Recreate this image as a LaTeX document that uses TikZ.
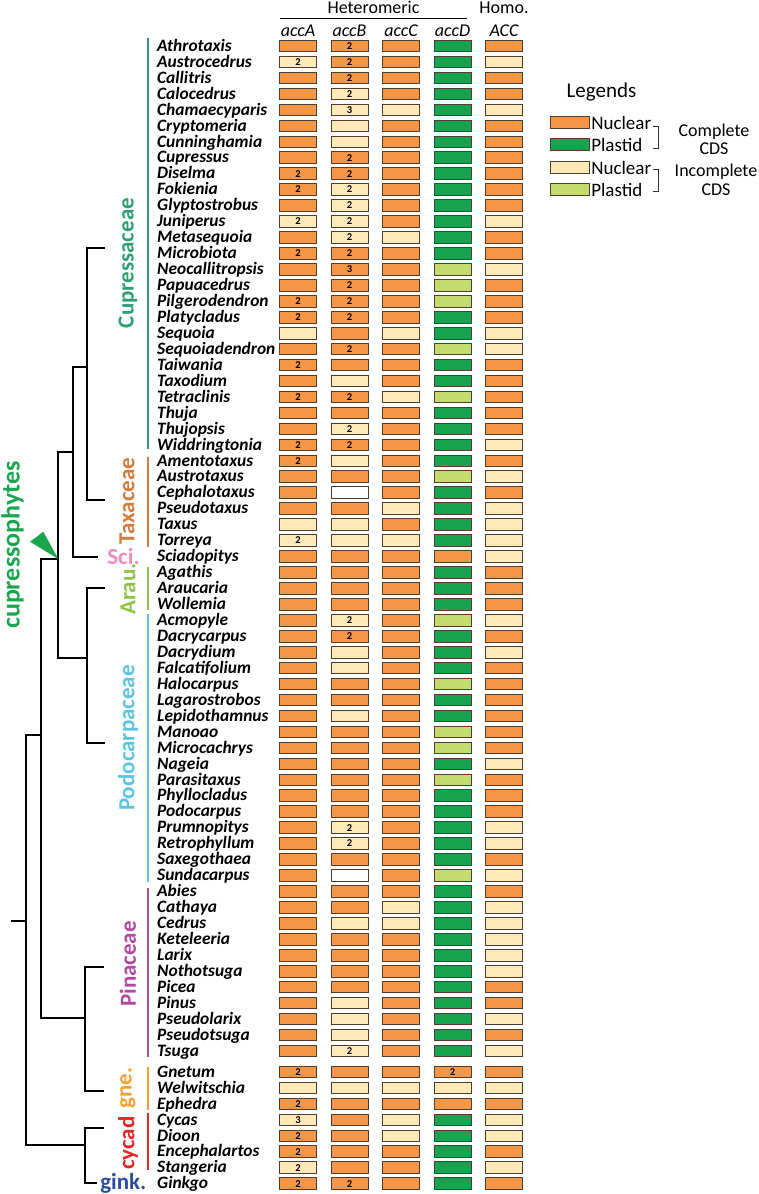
\documentclass[tikz,border=0pt]{standalone}
\usepackage{fontspec}
\setmainfont{Carlito}
\usetikzlibrary{positioning}

\definecolor{colO}{RGB}{247,150,70}
\definecolor{colG}{RGB}{22,163,80}
\definecolor{colY}{RGB}{254,233,183}
\definecolor{colL}{RGB}{196,220,110}
\definecolor{colW}{RGB}{255,255,255}
\definecolor{boxline}{RGB}{80,62,48}
\definecolor{cuprc}{RGB}{46,160,112}
\definecolor{taxac}{RGB}{212,124,62}
\definecolor{scic}{RGB}{238,140,190}
\definecolor{arauc}{RGB}{140,196,74}
\definecolor{podoc}{RGB}{92,196,222}
\definecolor{pinac}{RGB}{180,72,160}
\definecolor{gnec}{RGB}{246,160,50}
\definecolor{cycc}{RGB}{226,38,38}
\definecolor{ginkc}{RGB}{44,76,160}
\definecolor{cphyc}{RGB}{26,166,76}

\newcommand{\setfs}[1]{\fontsize{#1}{#1}\selectfont}
\def\splitcode#1#2\relax{\def\cellcol{#1}\def\cellnum{#2}}
\newcommand{\acccell}[3]{\expandafter\splitcode#3\relax
  \node[accbox, fill=col\cellcol] (#1) at #2 {\cellnum};}

\begin{document}
\begin{tikzpicture}[
  x=1pt, y=-1pt,
  taxon/.style={anchor=base west, inner sep=0pt, font=\setfs{17.4}\bfseries\itshape},
  accbox/.style={draw=boxline, line width=0.8pt, minimum width=37pt, minimum height=11.6pt, inner sep=0pt, font=\setfs{10.5}\bfseries},
  colhead/.style={anchor=base, inner sep=0pt, font=\setfs{18}\itshape},
  branch/.style={line width=1.8pt, black},
  cladebar/.style={line width=1.6pt},
  clade/.style={rotate=90, inner sep=0pt, font=\setfs{23}\bfseries},
  legbox/.style={accbox, minimum width=39pt, minimum height=12pt},
  legtext/.style={inner sep=0pt, anchor=west, font=\setfs{19}},
  brk/.style={line width=0.9pt, black!80}
]
  \useasboundingbox (0,0) rectangle (759,1194);

  % header
  \node[anchor=base, inner sep=0pt, font=\setfs{18}] (hHet) at (373.5,13.5) {Heteromeric};
  \node[anchor=base, inner sep=0pt, font=\setfs{18}] (hHom) at (504,13.5) {Homo.};
  \draw[line width=1.2pt] (280,18.3) -- (466.7,18.3);
  \foreach \h [count=\k] in {accA,accB,accC,accD,ACC}
    \node[colhead] (h\k) at ({298+51.5*(\k-1)},36.7) {\h};

  % table rows
  \foreach \nm/\ca/\cb/\cc/\cd/\ce [count=\i] in {
    Athrotaxis/O/O2/O/G/O, Austrocedrus/Y2/O2/O/G/Y, Callitris/O/O2/O/G/O,
    Calocedrus/O/Y2/O/G/O, Chamaecyparis/O/Y3/Y/G/Y, Cryptomeria/O/Y/O/G/O,
    Cunninghamia/O/Y/O/G/O, Cupressus/O/O2/O/G/O, Diselma/O2/O2/O/G/O,
    Fokienia/O2/Y2/O/G/O, Glyptostrobus/O/Y2/O/G/O, Juniperus/Y2/Y2/O/G/Y,
    Metasequoia/O/Y2/Y/G/O, Microbiota/O2/O2/O/G/O, Neocallitropsis/O/O3/O/L/Y,
    Papuacedrus/O/O2/O/L/O, Pilgerodendron/O2/O2/O/L/O, Platycladus/O2/O2/O/G/O,
    Sequoia/Y/O/Y/G/Y, Sequoiadendron/O/O2/O/L/Y, Taiwania/O2/O/O/G/O,
    Taxodium/O/Y/O/G/O, Tetraclinis/O2/O2/Y/L/O, Thuja/O/O/O/G/O,
    Thujopsis/O/Y2/O/G/O, Widdringtonia/O2/O2/O/G/Y, Amentotaxus/O2/Y/O/G/O,
    Austrotaxus/O/O/O/L/Y, Cephalotaxus/O/W/O/G/O, Pseudotaxus/O/O/Y/G/Y,
    Taxus/Y/Y/O/G/Y, Torreya/Y2/Y/Y/G/Y, Sciadopitys/O/O/O/O/Y,
    Agathis/O/O/O/G/O, Araucaria/O/O/O/G/O, Wollemia/O/O/O/G/O,
    Acmopyle/O/Y2/O/L/Y, Dacrycarpus/O/O2/O/G/O, Dacrydium/O/Y/O/G/Y,
    Falcatifolium/O/Y/O/G/O, Halocarpus/O/O/O/L/O, Lagarostrobos/O/O/O/G/O,
    Lepidothamnus/O/Y/O/G/O, Manoao/O/O/O/L/O, Microcachrys/O/O/O/L/O,
    Nageia/O/O/O/G/Y, Parasitaxus/O/O/O/L/O, Phyllocladus/O/O/O/G/O,
    Podocarpus/O/O/O/G/O, Prumnopitys/O/Y2/O/G/Y, Retrophyllum/O/Y2/O/G/Y,
    Saxegothaea/O/O/O/G/O, Sundacarpus/O/W/O/L/Y, Abies/O/O/O/G/O,
    Cathaya/O/O/Y/G/Y, Cedrus/O/Y/Y/G/Y, Keteleeria/O/O/O/G/Y,
    Larix/O/O/O/G/Y, Nothotsuga/O/O/O/G/Y, Picea/O/O/O/G/O,
    Pinus/O/Y/O/G/O, Pseudolarix/O/Y/O/G/Y, Pseudotsuga/O/Y/O/G/O,
    Tsuga/O/Y2/O/G/Y, Gnetum/O2/O/O/O2/O, Welwitschia/Y/Y/Y/Y/Y,
    Ephedra/O2/O/O/O/O, Cycas/Y3/O/Y/G/Y, Dioon/O2/O/Y/G/Y,
    Encephalartos/O2/O/O/G/O, Stangeria/Y2/O/O/G/Y, Ginkgo/O2/O2/O/G/O} {
    \pgfmathsetmacro\yy{46+(\i-1)*15.95+(\i>64)*5.1}
    \pgfmathsetmacro\yb{\yy+5.3}
    \node[taxon] (t\i) at (157,\yb) {\nm};
    \acccell{c\i-1}{(298,\yy)}{\ca}
    \acccell{c\i-2}{(349.5,\yy)}{\cb}
    \acccell{c\i-3}{(401,\yy)}{\cc}
    \acccell{c\i-4}{(452.5,\yy)}{\cd}
    \acccell{c\i-5}{(504,\yy)}{\ce}
  }

  % clade bars and labels
  \draw[cladebar, cuprc] (148,38.3) -- (148,449.3);
  \draw[cladebar, taxac] (148,456.7) -- (148,546.7);
  \draw[cladebar, arauc] (148,566.7) -- (148,610);
  \draw[cladebar, podoc] (148,614) -- (148,881.7);
  \draw[cladebar, pinac] (148,888.3) -- (148,1056.7);
  \draw[cladebar, gnec] (148,1066.7) -- (148,1110);
  \draw[cladebar, cycc] (148,1113.3) -- (148,1170);

  \node[clade, cuprc] (lCupr) at (128,263) {Cupressaceae};
  \node[clade, taxac] (lTaxa) at (127,501) {Taxaceae};
  \node[inner sep=0pt, font=\setfs{23}\bfseries, scic] (lSci) at (123.5,556.5) {Sci.};
  \node[clade, arauc] (lArau) at (128,589) {Arau.};
  \node[clade, podoc] (lPodo) at (128,738) {Podocarpaceae};
  \node[clade, pinac] (lPina) at (128,964) {Pinaceae};
  \node[clade, gnec] (lGne) at (128,1088) {gne.};
  \node[clade, cycc] (lCyc) at (128,1143) {cycad};
  \node[inner sep=0pt, font=\setfs{23}\bfseries, ginkc] (lGink) at (123.3,1183) {gink.};
  \node[clade, cphyc, font=\setfs{26}\bfseries] (lCphy) at (12.5,545) {cupressophytes};

  % tree
  \coordinate (tCupr) at (105,248.3);
  \coordinate (tTaxa) at (105,500);
  \coordinate (tSci) at (98.3,556.7);
  \coordinate (tArau) at (105,588.3);
  \coordinate (tPodo) at (105,743.3);
  \coordinate (tPina) at (104,966.7);
  \coordinate (tGne) at (104,1091);
  \coordinate (tCyc) at (104,1127.7);
  \coordinate (tGink) at (96.7,1182.7);
  \coordinate (nCT) at (86.7,366.7);
  \coordinate (nCTS) at (72.7,451.7);
  \coordinate (nAP) at (86.7,658.3);
  \coordinate (nCon) at (58.3,559);
  \coordinate (nPG) at (85,1018.3);
  \coordinate (nCG) at (85,1145);
  \coordinate (nSeed) at (40.7,735);
  \coordinate (nRoot) at (26,921);
  \coordinate (rootEnd) at (11,921);

  \draw[branch] (tCupr) -| (nCT);
  \draw[branch] (tTaxa) -| (nCT);
  \draw[branch] (nCT) -| (nCTS);
  \draw[branch] (tSci) -| (nCTS);
  \draw[branch] (nCTS) -| (nCon);
  \draw[branch] (tArau) -| (nAP);
  \draw[branch] (tPodo) -| (nAP);
  \draw[branch] (nAP) -| (nCon);
  \draw[branch] (nCon) -| (nSeed);
  \draw[branch] (tPina) -| (nPG);
  \draw[branch] (tGne) -| (nPG);
  \draw[branch] (nPG) -| (nSeed);
  \draw[branch] (nSeed) -| (nRoot);
  \draw[branch] (tCyc) -| (nCG);
  \draw[branch] (tGink) -| (nCG);
  \draw[branch] (nCG) -| (nRoot);
  \draw[branch] (nRoot) -- (rootEnd);
  \fill[cphyc] (nCon) -- (30,541.7) -- (43.3,531.7) -- cycle;

  % legend
  \node[inner sep=0pt, font=\setfs{21}] (legT) at (601.5,91.7) {Legends};
  \node[legbox, fill=colO] (lg1) at (569.7,122.8) {};
  \node[legbox, fill=colG] (lg2) at (569.7,144.8) {};
  \node[legbox, fill=colY] (lg3) at (569.7,167.5) {};
  \node[legbox, fill=colL] (lg4) at (569.7,189.7) {};
  \node[legtext, right=1.5pt of lg1] (lt1) {Nuclear};
  \node[legtext, right=1.5pt of lg2] (lt2) {Plastid};
  \node[legtext, right=1.5pt of lg3] (lt3) {Nuclear};
  \node[legtext, right=1.5pt of lg4] (lt4) {Plastid};
  \draw[brk] (652.7,126.7) -- (658.3,126.7) -- (658.3,148.3) -- (652.7,148.3);
  \draw[brk] (652.7,169.3) -- (658.3,169.3) -- (658.3,191.7) -- (652.7,191.7);
  \node[align=center, inner sep=0pt, font=\fontsize{18}{18.5}\selectfont] (cds1) at (714,139.5) {Complete\\CDS};
  \node[align=center, inner sep=0pt, font=\fontsize{18}{18.5}\selectfont] (cds2) at (716,180) {Incomplete\\CDS};
\end{tikzpicture}
\end{document}
